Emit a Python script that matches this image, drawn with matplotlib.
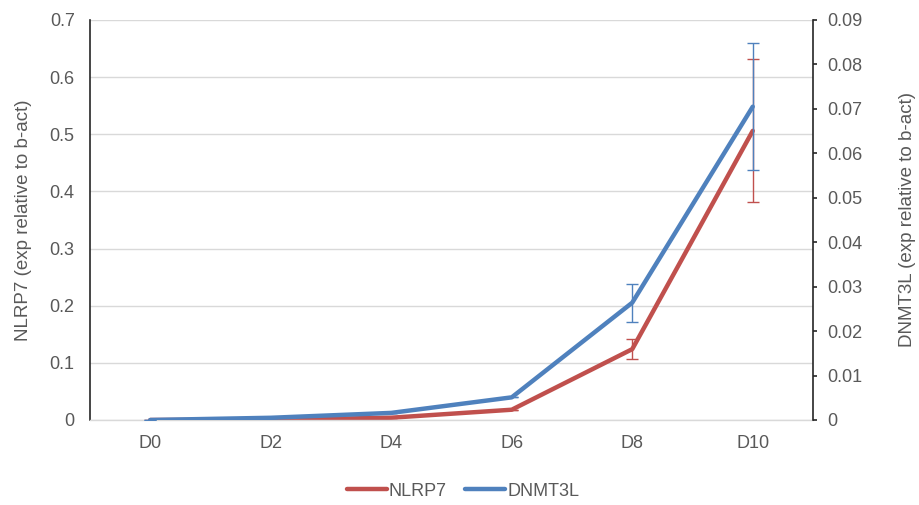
import matplotlib
matplotlib.use("Agg")
import matplotlib.pyplot as plt
from matplotlib.lines import Line2D
from matplotlib.ticker import MultipleLocator, FuncFormatter

plt.rcParams["font.family"] = ["Liberation Sans", "DejaVu Sans"]

days = ["D0", "D2", "D4", "D6", "D8", "D10"]
nlrp7 = [0.0, 0.0005, 0.004, 0.018, 0.124, 0.506]
nlrp7_err = [0.0, 0.0, 0.0, 0.0, 0.018, 0.125]
dnmt3l = [0.0, 0.0005, 0.0016, 0.0051, 0.0264, 0.0705]
dnmt3l_err = [0.0, 0.0, 0.0, 0.0, 0.0043, 0.0143]

red = "#C0504D"
blue = "#4F81BD"
text_col = "#595959"
tick_fs = 13
label_fs = 13.5

fig = plt.figure(figsize=(9.19, 5.05), dpi=100)
ax = fig.add_axes([90 / 919, 1 - 420 / 505, (813 - 90) / 919, 400 / 505])
ax2 = ax.twinx()

x = list(range(len(days)))

ax.errorbar(x, nlrp7, yerr=nlrp7_err, color=red, lw=3.2, elinewidth=1,
            capsize=4, capthick=1, solid_capstyle="round")
ax2.errorbar(x, dnmt3l, yerr=dnmt3l_err, color=blue, lw=3.2, elinewidth=1,
             capsize=4, capthick=1, solid_capstyle="round")

ax.set_xlim(-0.5, len(days) - 0.5)
ax.set_ylim(0, 0.7)
ax2.set_ylim(0, 0.09)
ax.yaxis.set_major_locator(MultipleLocator(0.1))
ax2.yaxis.set_major_locator(MultipleLocator(0.01))

def fmt(v, pos):
    s = f"{v:.2f}".rstrip("0").rstrip(".")
    return s if s else "0"

ax.yaxis.set_major_formatter(FuncFormatter(fmt))
ax2.yaxis.set_major_formatter(FuncFormatter(fmt))

ax.set_xticks(x)
ax.set_xticklabels(days)
ax.grid(axis="y", color="#d9d9d9", lw=1)
ax.set_axisbelow(True)

for a in (ax, ax2):
    for s in a.spines.values():
        s.set_visible(False)

ax.spines["left"].set_visible(True)
ax.spines["left"].set_color("#262626")
ax.spines["left"].set_linewidth(1.2)
ax.spines["bottom"].set_visible(True)
ax.spines["bottom"].set_color("#d9d9d9")
ax.spines["bottom"].set_linewidth(1)
ax2.spines["right"].set_visible(True)
ax2.spines["right"].set_color("#262626")
ax2.spines["right"].set_linewidth(1.2)

ax.tick_params(axis="x", length=0, pad=11, labelsize=tick_fs, colors=text_col)
ax.tick_params(axis="y", length=0, pad=11, labelsize=tick_fs, colors=text_col)
ax2.tick_params(axis="y", length=3, width=1.2, color="#262626", pad=7,
                labelsize=tick_fs, labelcolor=text_col)

ax.set_ylabel("NLRP7 (exp relative to b-act)", fontsize=label_fs, color=text_col)
ax.yaxis.set_label_coords(-(90 - 32) / 723, 0.5)
ax2.set_ylabel("DNMT3L (exp relative to b-act)", fontsize=label_fs, color=text_col,
               rotation=90)
ax2.yaxis.set_label_coords(1 + (899 - 813) / 723, 0.5)

handles = [Line2D([], [], color=red, lw=3.2, solid_capstyle="round"),
           Line2D([], [], color=blue, lw=3.2, solid_capstyle="round")]
fig.legend(handles, ["NLRP7", "DNMT3L"], loc="center",
           bbox_to_anchor=(463 / 919, 1 - 491 / 505),
           ncol=2, frameon=False, fontsize=tick_fs, labelcolor=text_col,
           handlelength=2.2, handletextpad=0.1, columnspacing=1.05)

fig.savefig("out.png", dpi=100)
